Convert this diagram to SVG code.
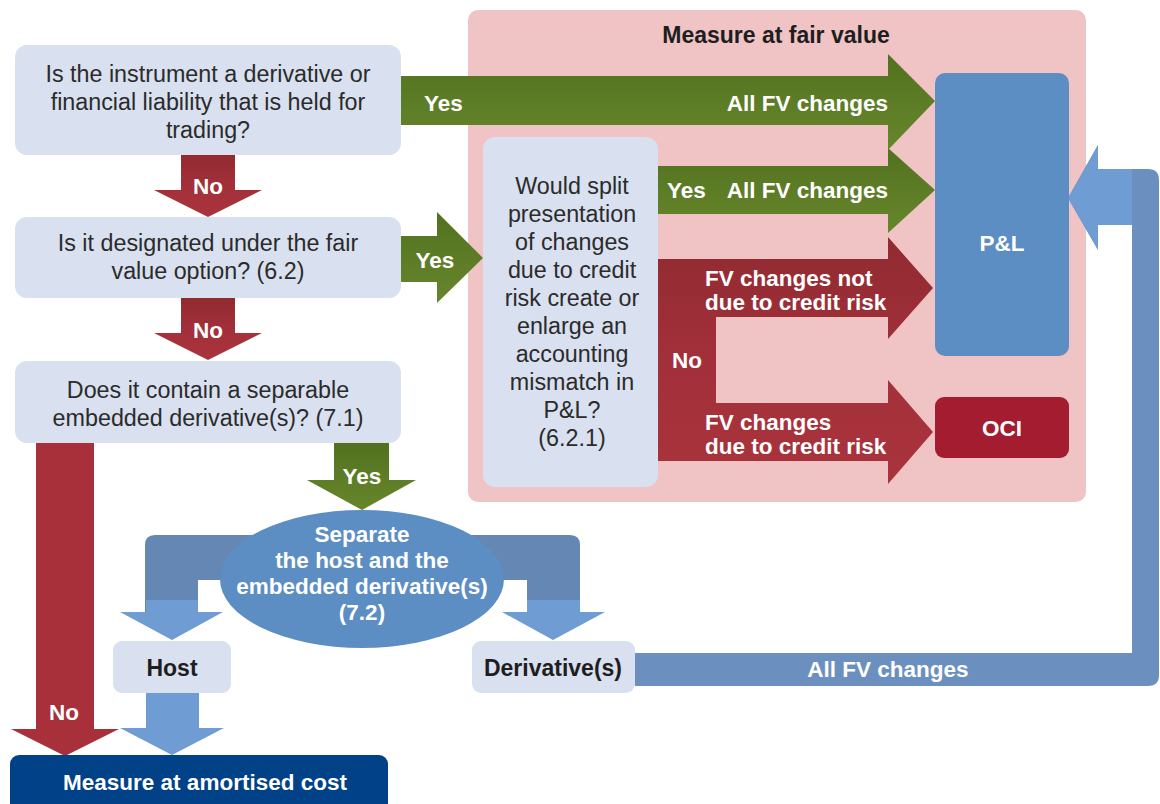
<svg xmlns="http://www.w3.org/2000/svg" width="1160" height="804" viewBox="0 0 1160 804">
<style>
.q{fill:#d9e0ef}
.qt{font-family:"Liberation Sans",Arial,sans-serif;font-size:23.3px;fill:#2b2b2b;text-anchor:middle}
.wb{font-family:"Liberation Sans",Arial,sans-serif;font-weight:bold;font-size:22.5px;fill:#ffffff}
.db{font-family:"Liberation Sans",Arial,sans-serif;font-weight:bold;font-size:23px;fill:#1e1e1e;text-anchor:middle}
.mid{text-anchor:middle}
.end{text-anchor:end}
.blue{fill:#6b90bf}
.bluehead{fill:#6f9cd2}
</style>
<defs>
<linearGradient id="gg" x1="0" y1="0" x2="0" y2="1">
<stop offset="0" stop-color="#52711f"/><stop offset="0.5" stop-color="#5d7c26"/><stop offset="1" stop-color="#66862b"/>
</linearGradient>
<linearGradient id="rg" x1="0" y1="0" x2="0" y2="1">
<stop offset="0" stop-color="#912a31"/><stop offset="0.5" stop-color="#a2303a"/><stop offset="1" stop-color="#aa333c"/>
</linearGradient>
</defs>

<g id="fair-value-area">
<rect x="468" y="10" width="618" height="492" rx="10" fill="#f0c3c5"/>
<text class="db" x="776" y="43">Measure at fair value</text>
</g>

<g id="connectors">
<!-- Yes: trading -> P&L -->
<path fill="url(#gg)" d="M400,76 L888,76 L888,54 L935,101 L888,150 L888,125 L400,125 Z"/>
<text class="wb" x="424" y="111">Yes</text>
<text class="wb end" x="888" y="111">All FV changes</text>
<!-- No arrows down -->
<path fill="url(#rg)" d="M181,155 L235,155 L235,190 L262,190 L208,217 L154,190 L181,190 Z"/>
<text class="wb mid" x="208" y="194">No</text>
<path fill="url(#rg)" d="M181,298 L235,298 L235,333 L262,333 L208,360 L154,333 L181,333 Z"/>
<text class="wb mid" x="208" y="338">No</text>
<!-- Yes: FVO -> split presentation question -->
<path fill="url(#gg)" d="M400,236 L437,236 L437,212 L483,258 L437,303 L437,282 L400,282 Z"/>
<text class="wb mid" x="435" y="268">Yes</text>
<!-- Yes: split question -> P&L -->
<path fill="url(#gg)" d="M657,166 L888,166 L888,148 L935,190 L888,233 L888,214 L657,214 Z"/>
<text class="wb" x="667" y="198">Yes</text>
<text class="wb end" x="888" y="198">All FV changes</text>
<!-- No: split branches -->
<path fill="url(#rg)" d="M657,259 L888,259 L888,237 L933,288 L888,339 L888,317 L716,317 L716,403 L888,403 L888,380 L933,432 L888,484 L888,461 L657,461 Z"/>
<text class="wb" x="705" y="286" font-size="22">FV changes not</text>
<text class="wb" x="705" y="310" font-size="22">due to credit risk</text>
<text class="wb mid" x="687" y="368">No</text>
<text class="wb" x="705" y="430" font-size="22">FV changes</text>
<text class="wb" x="705" y="454" font-size="22">due to credit risk</text>
<!-- No: embedded -> amortised cost -->
<path fill="#a7303a" d="M36,443 L94,443 L94,729 L119,729 L65,756 L11,729 L36,729 Z"/>
<text class="wb mid" x="64" y="720">No</text>
<!-- Yes: embedded -> separate -->
<path fill="url(#gg)" d="M334,443 L389,443 L389,480 L416,480 L362,510 L307,480 L334,480 Z"/>
<text class="wb mid" x="362" y="484">Yes</text>
<!-- separate branches to host and derivative -->
<path fill="#6587b4" d="M155,535 L570,535 Q580,535 580,545 L580,612 L527,612 L527,580 L198,580 L198,612 L145,612 L145,545 Q145,535 155,535 Z"/>
<path class="bluehead" d="M146,600 L198,600 L198,612 L223,612 L172,640 L120,612 L146,612 Z"/>
<path class="bluehead" d="M527,600 L580,600 L580,612 L605,612 L553,640 L502,612 L527,612 Z"/>
<!-- Host -> amortised -->
<path class="bluehead" d="M146,693 L199,693 L199,728 L224,728 L172,755 L120,728 L146,728 Z"/>
<!-- Derivative -> P&L -->
<path class="blue" d="M635,653 L1132,653 L1132,225 L1098,225 L1098,250 L1068,198 L1098,145 L1098,169 L1148,169 Q1159,169 1159,180 L1159,675 Q1159,686 1148,686 L635,686 Z"/>
<path class="bluehead" d="M1132,169 L1098,169 L1098,145 L1068,198 L1098,250 L1098,225 L1132,225 Z"/>
<text class="wb mid" x="888" y="677">All FV changes</text>
</g>

<g id="q1">
<rect class="q" x="15" y="45" width="386" height="110" rx="12"/>
<text class="qt" x="208" y="82">Is the instrument a derivative or</text>
<text class="qt" x="208" y="110">financial liability that is held for</text>
<text class="qt" x="208" y="138">trading?</text>
</g>

<g id="q2">
<rect class="q" x="15" y="217" width="386" height="81" rx="12"/>
<text class="qt" x="208" y="251">Is it designated under the fair</text>
<text class="qt" x="208" y="279">value option? (6.2)</text>
</g>

<g id="q3">
<rect class="q" x="15" y="361" width="386" height="82" rx="12"/>
<text class="qt" x="208" y="398">Does it contain a separable</text>
<text class="qt" x="208" y="426">embedded derivative(s)? (7.1)</text>
</g>

<g id="q4">
<rect class="q" x="483" y="137" width="175" height="350" rx="12"/>
<text class="qt" x="572" y="194">Would split</text>
<text class="qt" x="572" y="222">presentation</text>
<text class="qt" x="572" y="250">of changes</text>
<text class="qt" x="572" y="278">due to credit</text>
<text class="qt" x="572" y="306">risk create or</text>
<text class="qt" x="572" y="334">enlarge an</text>
<text class="qt" x="572" y="362">accounting</text>
<text class="qt" x="572" y="390">mismatch in</text>
<text class="qt" x="572" y="418">P&amp;L?</text>
<text class="qt" x="572" y="446">(6.2.1)</text>
</g>

<g id="pl">
<rect x="935" y="73" width="134" height="283" rx="10" fill="#5c8dc3"/>
<text class="wb mid" x="1002" y="251">P&amp;L</text>
</g>

<g id="oci">
<rect x="935" y="397" width="134" height="61" rx="9" fill="#a31c2f"/>
<text class="wb mid" x="1002" y="436">OCI</text>
</g>

<g id="separate">
<ellipse cx="362" cy="579" rx="142" ry="69" fill="#5c8dc3"/>
<text class="wb mid" x="362" y="542" font-size="22">Separate</text>
<text class="wb mid" x="362" y="568" font-size="22">the host and the</text>
<text class="wb mid" x="362" y="594" font-size="22">embedded derivative(s)</text>
<text class="wb mid" x="362" y="620" font-size="22">(7.2)</text>
</g>

<g id="host">
<rect class="q" x="113" y="641" width="118" height="52" rx="9"/>
<text class="db" x="172" y="676">Host</text>
</g>

<g id="derivative">
<rect class="q" x="472" y="641" width="163" height="52" rx="9"/>
<text class="db" x="553" y="676">Derivative(s)</text>
</g>

<g id="amortised">
<rect x="10" y="755" width="378" height="60" rx="9" fill="#004187"/>
<text class="wb mid" x="205" y="790" font-size="24.5">Measure at amortised cost</text>
</g>
</svg>
